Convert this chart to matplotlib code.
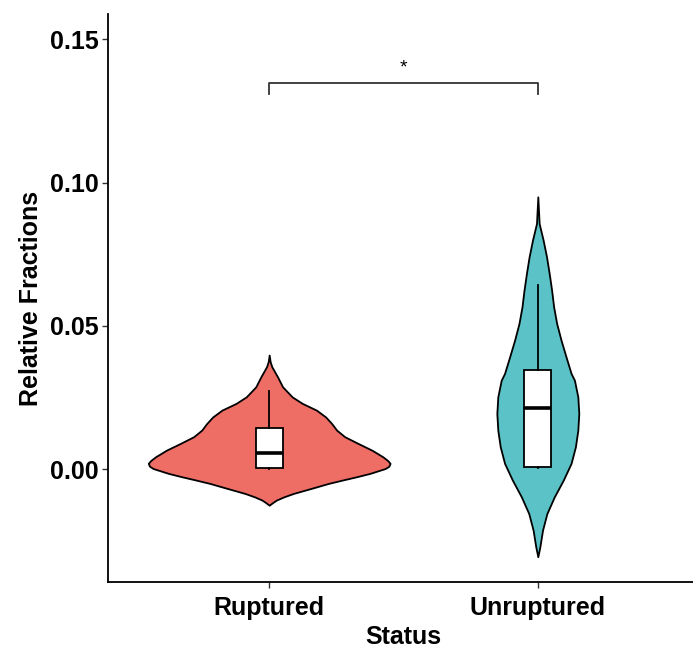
import matplotlib
matplotlib.use("Agg")
from matplotlib import pyplot as plt
import numpy as np

plt.rcParams['font.family'] = ['Liberation Sans', 'DejaVu Sans']

categories = ["Ruptured", "Unruptured"]
colors = ["#EE6E66", "#5BC3C8"]

# violin outlines: y value and relative half width
rup_y = [0.0398, 0.0375, 0.0357, 0.0322, 0.0287, 0.0252, 0.0229, 0.0206, 0.0182, 0.0159,
         0.0136, 0.0113, 0.0090, 0.0066, 0.0043, 0.0030, 0.0020, 0.0010, 0.0002, -0.0015,
         -0.0027, -0.0038, -0.0050, -0.0062, -0.0085, -0.0097, -0.0108, -0.0118, -0.0126]
rup_w = [0.0, 0.008, 0.022, 0.069, 0.111, 0.19, 0.275, 0.39, 0.467, 0.517,
         0.558, 0.625, 0.733, 0.85, 0.94, 0.98, 1.0, 0.99, 0.96, 0.833,
         0.72, 0.608, 0.49, 0.392, 0.2, 0.12, 0.06, 0.025, 0.0]
unr_y = [0.0950, 0.0857, 0.0799, 0.0741, 0.0683, 0.0625, 0.0566, 0.0508, 0.0450, 0.0392,
         0.0334, 0.0310, 0.0252, 0.0194, 0.0136, 0.0078, 0.0020, -0.0038, -0.0097,
         -0.0155, -0.0213, -0.0271, -0.0306]
unr_w = [0.0, 0.011, 0.044, 0.072, 0.094, 0.114, 0.131, 0.156, 0.192, 0.233,
         0.275, 0.303, 0.331, 0.339, 0.331, 0.311, 0.275, 0.211, 0.136,
         0.075, 0.039, 0.017, 0.0]

# box stats: q1, median, q3, whisker low, whisker high
q1 = [0.0005, 0.0006]
med = [0.0055, 0.0212]
q3 = [0.0142, 0.0345]
wlo = [0.0, 0.0003]
whi = [0.0272, 0.0642]

fig = plt.figure(figsize=(6.93, 6.48), dpi=100)
ax = fig.add_axes([108/693, 1-582/648, 591/693, 568/648])

profiles = [(rup_y, rup_w), (unr_y, unr_w)]
for i, (yy, ww) in enumerate(profiles):
    pos = i + 1
    yy = np.array(yy)
    ww = np.array(ww) * 0.45
    ax.fill_betweenx(yy, pos - ww, pos + ww, facecolor=colors[i], edgecolor="black",
                     linewidth=1.3, zorder=2)

stats = []
for i in range(2):
    stats.append({"q1": q1[i], "med": med[i], "q3": q3[i], "whislo": wlo[i],
                  "whishi": whi[i], "fliers": []})
ax.bxp(stats, positions=[1, 2], widths=0.1, patch_artist=True, showcaps=False,
       boxprops=dict(facecolor="white", edgecolor="black", linewidth=1.3),
       medianprops=dict(color="black", linewidth=2.6),
       whiskerprops=dict(color="black", linewidth=1.3), zorder=3)

# significance bracket
ax.plot([1, 1, 2, 2], [0.131, 0.1347, 0.1347, 0.131], color="#333333", lw=1.3)
ax.text(1.5, 0.137, "*", ha="center", va="bottom", fontsize=14)

ax.set_xlim(0.4, 2.6)
ax.set_ylim(-0.0394, 0.1588)
ax.set_xticks([1, 2])
ax.set_xticklabels(categories)
ax.set_yticks([0.0, 0.05, 0.10, 0.15])
ax.set_yticklabels(["0.00", "0.05", "0.10", "0.15"])
for s in ["top", "right"]:
    ax.spines[s].set_visible(False)
for s in ["left", "bottom"]:
    ax.spines[s].set_linewidth(1.3)
ax.tick_params(length=4, width=1, color="#333333", labelsize=18, pad=3)
ax.tick_params(axis="x", pad=6)
for lab in ax.get_xticklabels() + ax.get_yticklabels():
    lab.set_fontweight("bold")
ax.set_xlabel("Status", fontsize=18, fontweight="bold", labelpad=4)
ax.set_ylabel("Relative Fractions", fontsize=18, fontweight="bold", labelpad=5)

fig.savefig("out.png", dpi=100)
